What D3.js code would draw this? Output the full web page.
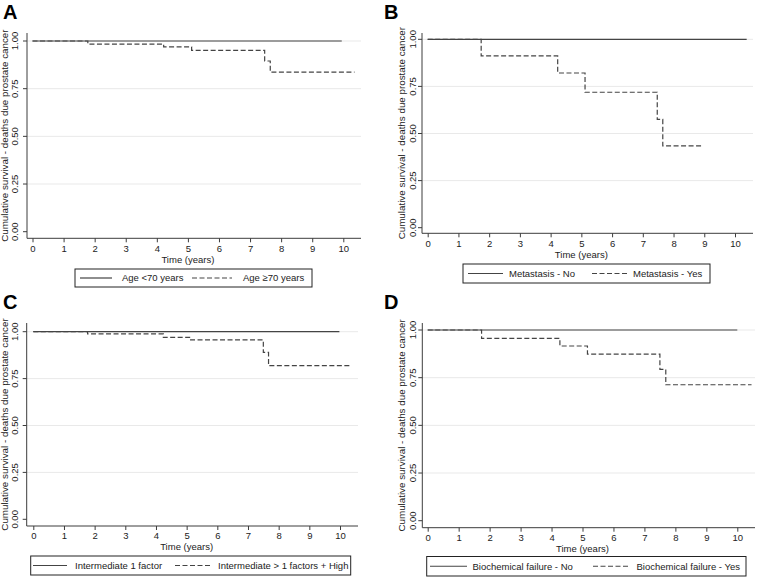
<!DOCTYPE html>
<html><head><meta charset="utf-8">
<script src="https://cdn.jsdelivr.net/npm/d3@7"></script>
<style>
body{margin:0;background:#fff;}
svg{display:block;font-family:"Liberation Sans",Arial,Helvetica,sans-serif;}
</style></head>
<body>
<svg id="c" width="759" height="578"></svg>
<script>
// ---- data ----
const xTicks = [0,1,2,3,4,5,6,7,8,9,10];
const yTicks = [0, 0.25, 0.5, 0.75, 1];
const yTickLabels = ["0.00","0.25","0.50","0.75","1.00"];
const xTitle = "Time (years)";
const yTitle = "Cumulative survival - deaths due prostate cancer";
const panelLetters = ["A","B","C","D"];

// Kaplan-Meier step points: [time, survival]
const aSolid = [[0,1],[9.95,1]];
const aDashed = [[0,1],[1.78,0.984],[4.22,0.969],[5.12,0.951],[7.47,0.895],[7.65,0.837],[10.36,0.837]];
const bSolid = [[0,1],[10.38,1]];
const bDashed = [[0,1],[1.74,0.912],[4.23,0.821],[5.12,0.719],[7.47,0.575],[7.65,0.434],[8.92,0.434]];
const cSolid = [[0,1],[9.98,1]];
const cDashed = [[0,1],[1.77,0.988],[4.24,0.970],[5.13,0.956],[7.50,0.890],[7.67,0.819],[10.38,0.819]];
const dSolid = [[0,1],[10.0,1]];
const dDashed = [[0,1],[1.74,0.956],[4.27,0.916],[5.16,0.874],[7.50,0.794],[7.69,0.713],[10.46,0.713]];

const legendA = ["Age <70 years","Age \u226570 years"];
const legendB = ["Metastasis - No","Metastasis - Yes"];
const legendC = ["Intermediate 1 factor","Intermediate > 1 factors + High"];
const legendD = ["Biochemical failure - No","Biochemical failure - Yes"];

// ---- layout ----
const panels = [
  {letter:"A", lx:3, ly:19, solid:aSolid, dashed:aDashed, legend:legendA,
   yAxisX:27, x0:32.5, x10:343.3, y1:41, y0:231.7, xAxisY:238.3, top:33, right:361,
   titleX:5, tickLabX:15, timeY:262.5,
   box:[75,269,312,287], l1:[80,112,122], l2:[192,232,243]},
  {letter:"B", lx:384, ly:19, solid:bSolid, dashed:bDashed, legend:legendB,
   yAxisX:422, x0:427.7, x10:735, y1:39.3, y0:227.7, xAxisY:233.3, top:33, right:753,
   titleX:401.5, tickLabX:413, timeY:257.5,
   box:[463,264,710,283], l1:[468,503,509], l2:[592,627,633]},
  {letter:"C", lx:3, ly:309, solid:cSolid, dashed:cDashed, legend:legendC,
   yAxisX:26.7, x0:33.3, x10:340, y1:331.7, y0:519.3, xAxisY:526, top:323, right:358,
   titleX:5, tickLabX:15, timeY:550,
   box:[30.7,556,350.7,575], l1:[33,67,75], l2:[175,212,218]},
  {letter:"D", lx:384, ly:309, solid:dSolid, dashed:dDashed, legend:legendD,
   yAxisX:422.3, x0:427.7, x10:737.3, y1:330, y0:520.7, xAxisY:527.7, top:323, right:755,
   titleX:401.5, tickLabX:413, timeY:552,
   box:[426.7,556.5,746,576], l1:[430,467,472.5], l2:[593,630,636.5]}
];

const svg = d3.select("#c");
const ink = "#3c3c3c";
const fs = 9.5;

panels.forEach(p => {
  const g = svg.append("g");
  const x = d3.scaleLinear().domain([0,10]).range([p.x0, p.x10]);
  const y = d3.scaleLinear().domain([0,1]).range([p.y0, p.y1]);

  // panel letter
  g.append("text").attr("x",p.lx).attr("y",p.ly)
    .attr("font-size",20).attr("font-weight","bold").attr("fill","#000").text(p.letter);

  // gridlines
  g.selectAll(".grid").data(yTicks.filter(v=>v>0)).join("line")
    .attr("x1",p.yAxisX).attr("x2",p.right)
    .attr("y1",d=>y(d)).attr("y2",d=>y(d))
    .attr("stroke","#e9e9e9").attr("stroke-width",1);

  // axis lines
  g.append("line").attr("x1",p.yAxisX).attr("x2",p.yAxisX).attr("y1",p.top).attr("y2",p.xAxisY)
    .attr("stroke",ink).attr("stroke-width",1);
  g.append("line").attr("x1",p.yAxisX).attr("x2",p.right).attr("y1",p.xAxisY).attr("y2",p.xAxisY)
    .attr("stroke",ink).attr("stroke-width",1);

  // x axis ticks
  const xa = d3.axisBottom(x).tickValues(xTicks).tickSize(4).tickPadding(2.5).tickFormat(d3.format("d"));
  const gx = g.append("g").attr("transform",`translate(0,${p.xAxisY})`).call(xa);
  gx.select(".domain").remove();
  gx.selectAll("line").attr("stroke",ink);
  gx.selectAll("text").attr("font-size",fs).attr("fill","#222").attr("font-family","Liberation Sans, Arial, sans-serif");

  // y axis ticks (rotated labels)
  g.selectAll(".yt").data(yTicks).join("line")
    .attr("x1",p.yAxisX-4).attr("x2",p.yAxisX).attr("y1",d=>y(d)).attr("y2",d=>y(d))
    .attr("stroke",ink);
  g.selectAll(".yl").data(yTicks).join("text")
    .attr("transform",d=>`translate(${p.tickLabX},${y(d)}) rotate(-90)`)
    .attr("text-anchor","middle").attr("dy","0.35em")
    .attr("font-size",fs).attr("fill","#222")
    .text((d,i)=>yTickLabels[i]);

  // axis titles
  g.append("text").attr("x",(p.x0+p.x10)/2).attr("y",p.timeY)
    .attr("text-anchor","middle").attr("font-size",fs).attr("fill","#222").text(xTitle);
  g.append("text")
    .attr("transform",`translate(${p.titleX},${(p.top+p.xAxisY)/2}) rotate(-90)`)
    .attr("text-anchor","middle").attr("dy","0.35em")
    .attr("font-size",fs+0.3).attr("fill","#222").text(yTitle);

  // curves
  const line = d3.line().x(d=>x(d[0])).y(d=>y(d[1])).curve(d3.curveStepAfter);
  g.append("path").attr("d",line(p.solid)).attr("fill","none")
    .attr("stroke","#444").attr("stroke-width",1.2);
  g.append("path").attr("d",line(p.dashed)).attr("fill","none")
    .attr("stroke","#444").attr("stroke-width",1.2).attr("stroke-dasharray","5,2.5");

  // legend
  const [bx0,by0,bx1,by1] = p.box;
  g.append("rect").attr("x",bx0).attr("y",by0).attr("width",bx1-bx0).attr("height",by1-by0)
    .attr("fill","#fff").attr("stroke","#222").attr("stroke-width",1);
  const cy = (by0+by1)/2;
  g.append("line").attr("x1",p.l1[0]).attr("x2",p.l1[1]).attr("y1",cy).attr("y2",cy)
    .attr("stroke","#444").attr("stroke-width",1.2);
  g.append("text").attr("x",p.l1[2]).attr("y",cy).attr("dy","0.35em")
    .attr("font-size",fs).attr("fill","#222").text(p.legend[0]);
  g.append("line").attr("x1",p.l2[0]).attr("x2",p.l2[1]).attr("y1",cy).attr("y2",cy)
    .attr("stroke","#444").attr("stroke-width",1.2).attr("stroke-dasharray","5,2.5");
  g.append("text").attr("x",p.l2[2]).attr("y",cy).attr("dy","0.35em")
    .attr("font-size",fs).attr("fill","#222").text(p.legend[1]);
});
</script>
</body></html>
